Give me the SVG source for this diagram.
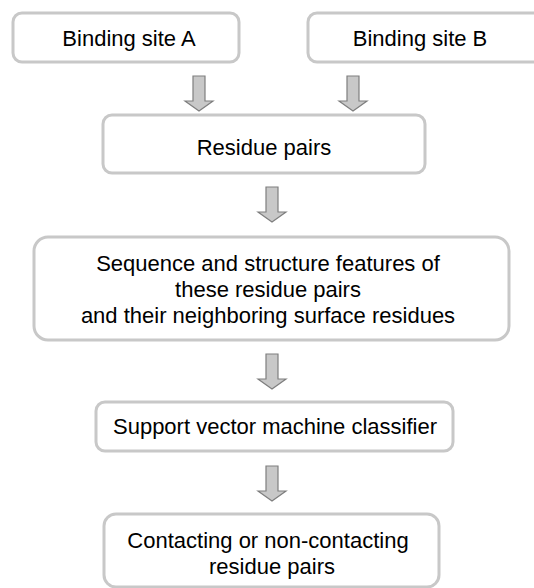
<svg xmlns="http://www.w3.org/2000/svg" width="534" height="588" viewBox="0 0 534 588">
<defs>
<style>
.box{fill:#fff;stroke:#c8c8c8;stroke-width:3}
.arr{fill:#c8c8c8;stroke:#7f7f7f;stroke-width:1.2}
text{font-family:"Liberation Sans",Arial,sans-serif;font-size:22px;fill:#000;text-anchor:middle}
</style>
<path id="arrow" class="arr" d="M-6,0 H6 V25 H14 L0,35 L-14,25 H-6 Z"/>
</defs>
<g id="connectors">
<use href="#arrow" x="199" y="76"/>
<use href="#arrow" x="353" y="76"/>
<use href="#arrow" x="272" y="187"/>
<use href="#arrow" x="272" y="354"/>
<use href="#arrow" x="272" y="466"/>
</g>
<g id="siteA">
<rect class="box" x="13" y="13" width="226" height="49" rx="9"/>
<text x="129" y="46">Binding site A</text>
</g>
<g id="siteB">
<rect class="box" x="308" y="13" width="240" height="49" rx="9"/>
<text x="420" y="46">Binding site B</text>
</g>
<g id="pairs">
<rect class="box" x="103" y="115" width="322" height="58" rx="9"/>
<text x="264" y="155">Residue pairs</text>
</g>
<g id="features">
<rect class="box" x="34" y="237" width="475" height="103" rx="14"/>
<text x="268" y="271">Sequence and structure features of</text>
<text x="268" y="297">these residue pairs</text>
<text x="268" y="323">and their neighboring surface residues</text>
</g>
<g id="svm">
<rect class="box" x="96" y="402" width="357" height="49" rx="9"/>
<text x="275" y="434">Support vector machine classifier</text>
</g>
<g id="result">
<rect class="box" x="104" y="514" width="335" height="73" rx="12"/>
<text x="268" y="548">Contacting or non-contacting</text>
<text x="272" y="574">residue pairs</text>
</g>
</svg>
